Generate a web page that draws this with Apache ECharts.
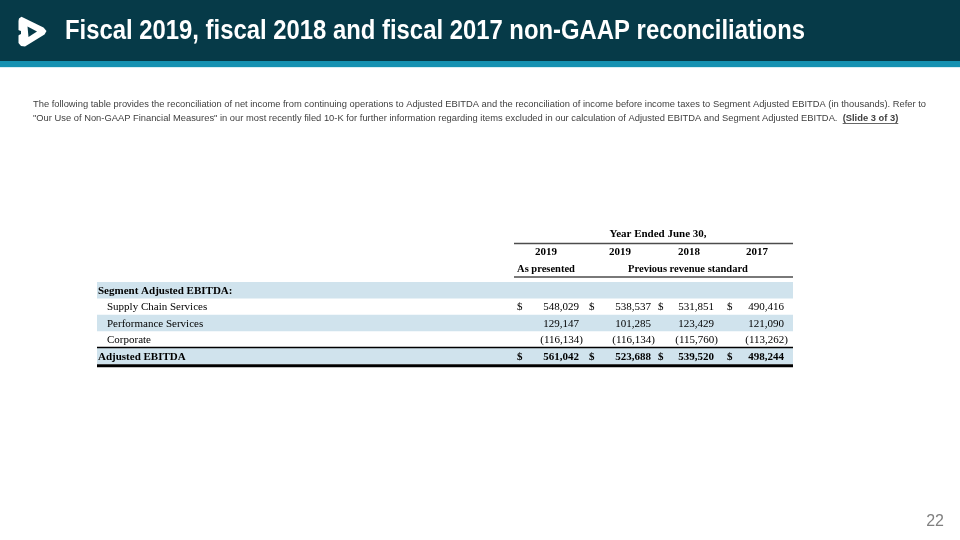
<!DOCTYPE html>
<html><head><meta charset="utf-8">
<script src="https://cdn.jsdelivr.net/npm/echarts@6/dist/echarts.min.js"></script>
<style>html,body{margin:0;padding:0;background:#fff}#c{width:960px;height:540px}</style>
</head><body><div id="c"></div>
<script>
// ---- content / data ----
const title = 'Fiscal 2019, fiscal 2018 and fiscal 2017 non-GAAP reconciliations';
const introLine1 = 'The following table provides the reconciliation of net income from continuing operations to Adjusted EBITDA and the reconciliation of income before income taxes to Segment Adjusted EBITDA (in thousands). Refer to';
const introLine2 = '"Our Use of Non-GAAP Financial Measures" in our most recently filed 10-K for further information regarding items excluded in our calculation of Adjusted EBITDA and Segment Adjusted EBITDA.  ';
const slideRef = '(Slide 3 of 3)';
const pageNumber = '22';
const periodHeader = 'Year Ended June 30,';
const years = ['2019', '2019', '2018', '2017'];
const basisLabels = ['As presented', 'Previous revenue standard'];
const rowLabels = ['Segment Adjusted EBITDA:', 'Supply Chain Services', 'Performance Services', 'Corporate', 'Adjusted EBITDA'];
const supplyChain = [548029, 538537, 531851, 490416];
const performance = [129147, 101285, 123429, 121090];
const corporate = [-116134, -116134, -115760, -113262];
const adjustedEbitda = [561042, 523688, 539520, 498244];

// ---- layout / styling ----
const rowValues = [null, supplyChain, performance, corporate, adjustedEbitda];
const rowDollar = [false, true, false, false, true];
const rowBold = [true, false, false, false, true];
const rowIndent = [false, true, true, true, false];
const rowShaded = [true, false, true, false, true];
const totalRow = 4;
const dollarOffsets = [420, 492, 561, 630];
const numberRightOffsets = [482, 554, 617, 687];
const serif = '"Liberation Serif", "Times New Roman", serif';
const sans = '"Liberation Sans", Arial, sans-serif';

const mctx = document.createElement('canvas').getContext('2d');
function tw(text, font) { mctx.font = font; return mctx.measureText(text).width; }
function fmt(v) {
  const s = Math.abs(v).toLocaleString('en-US');
  return v < 0 ? '(' + s + ')' : s;
}
function txt(x, y, text, font, fill, align, valign, extra) {
  return Object.assign({
    type: 'text', x: x, y: y, silent: true,
    style: { text: text, x: 0, y: 0, font: font, fill: fill,
      align: align, textAlign: align, verticalAlign: valign, textVerticalAlign: valign }
  }, extra || {});
}

const titleFont = 'bold 27px ' + sans;
const titleScale = 740 / tw(title, titleFont);
const bodyFont = '9.4px ' + sans;
const bodyBold = 'bold 9.4px ' + sans;
const bodyScale = 893 / tw(introLine1, bodyFont);
const l2w = tw(introLine2, bodyFont) * bodyScale;
const refX = 33 + l2w;
const refW = tw(slideRef, bodyBold) * bodyScale;

const graphics = [
  { type: 'rect', shape: { x: 0, y: 0, width: 960, height: 61 }, style: { fill: '#063a48' }, silent: true },
  { type: 'rect', shape: { x: 0, y: 61, width: 960, height: 6 }, style: { fill: '#1591b1' }, silent: true },
  { type: 'rect', shape: { x: 0, y: 67, width: 960, height: 1 }, style: { fill: '#d8eef4' }, silent: true },
  // logo
  { type: 'polygon', silent: true, shape: { points: [[19, 18.5], [21.5, 16.8], [43.5, 27.5], [46.5, 31], [44.5, 34.5], [25, 46.5], [21, 46], [18.5, 43], [18.5, 21]] }, style: { fill: '#ffffff' } },
  { type: 'polygon', silent: true, shape: { points: [[27.5, 26.5], [37, 31.5], [28.5, 37]] }, style: { fill: '#063a48' } },
  { type: 'polygon', silent: true, shape: { points: [[18, 30], [21, 31], [21, 34], [18, 35.5]] }, style: { fill: '#063a48' } },
  txt(65, 32, title, titleFont, '#ffffff', 'left', 'middle', { scaleX: titleScale }),
  txt(33, 104.5, introLine1, bodyFont, '#404040', 'left', 'middle', { scaleX: bodyScale }),
  txt(33, 118, introLine2, bodyFont, '#404040', 'left', 'middle', { scaleX: bodyScale }),
  txt(refX, 118, slideRef, bodyBold, '#404040', 'left', 'middle', { scaleX: bodyScale }),
  { type: 'line', silent: true, shape: { x1: refX, y1: 123.5, x2: refX + refW, y2: 123.5 }, style: { stroke: '#404040', lineWidth: 0.8 } },
  txt(944, 522, pageNumber, '16px ' + sans, '#7f7f7f', 'right', 'middle'),
  // table header
  txt(658, 234, periodHeader, 'bold 11px ' + serif, '#000', 'center', 'middle'),
  { type: 'line', silent: true, shape: { x1: 514, y1: 243.5, x2: 793, y2: 243.5 }, style: { stroke: '#4d4d4d', lineWidth: 1.6 } },
  { type: 'line', silent: true, shape: { x1: 514, y1: 277, x2: 793, y2: 277 }, style: { stroke: '#4d4d4d', lineWidth: 1.6 } }
];
const yearCenters = [546, 620, 689, 757];
years.forEach((y, k) => graphics.push(txt(yearCenters[k], 252, y, 'bold 11px ' + serif, '#000', 'center', 'middle')));
const basisCenters = [546, 688];
basisLabels.forEach((b, k) => graphics.push(txt(basisCenters[k], 269, b, 'bold 10.5px ' + serif, '#000', 'center', 'middle')));

const chart = echarts.init(document.getElementById('c'), null, { renderer: 'canvas' });
chart.setOption({
  animation: false,
  backgroundColor: '#ffffff',
  grid: { left: 97, top: 282, width: 696, height: 82, containLabel: false },
  xAxis: { type: 'value', min: 0, max: 1, show: false },
  yAxis: { type: 'category', data: rowLabels, inverse: true, show: false },
  graphic: graphics,
  series: [{
    type: 'custom',
    coordinateSystem: 'cartesian2d',
    encode: { x: 0, y: 1 },
    data: rowLabels.map((_, i) => [0, i]),
    renderItem: function (params, api) {
      const i = api.value(1);
      const pt = api.coord([0, i]);
      const h = api.size([0, 1])[1];
      const cs = params.coordSys;
      const yc = pt[1] + 1;
      const top = pt[1] - h / 2;
      const bold = rowBold[i];
      const font = (bold ? 'bold ' : '') + '11px ' + serif;
      const children = [];
      if (rowShaded[i]) children.push({ type: 'rect', shape: { x: cs.x, y: top, width: cs.width, height: h }, style: { fill: '#d0e3ed' } });
      children.push(txt(cs.x + (rowIndent[i] ? 10 : 1), yc, rowLabels[i], font, '#000', 'left', 'middle'));
      const vals = rowValues[i];
      if (vals) {
        vals.forEach((v, k) => {
          if (rowDollar[i]) children.push(txt(cs.x + dollarOffsets[k], yc, '$', font, '#000', 'left', 'middle'));
          const rx = cs.x + numberRightOffsets[k] + (v < 0 ? 4 : 0);
          children.push(txt(rx, yc, fmt(v), font, '#000', 'right', 'middle'));
        });
      }
      if (i === totalRow) {
        children.push({ type: 'line', shape: { x1: cs.x, y1: top, x2: cs.x + cs.width, y2: top }, style: { stroke: '#000', lineWidth: 1.5 } });
        children.push({ type: 'line', shape: { x1: cs.x, y1: top + h + 1.8, x2: cs.x + cs.width, y2: top + h + 1.8 }, style: { stroke: '#000', lineWidth: 3 } });
      }
      return { type: 'group', children: children };
    }
  }]
});
</script>
</body></html>
